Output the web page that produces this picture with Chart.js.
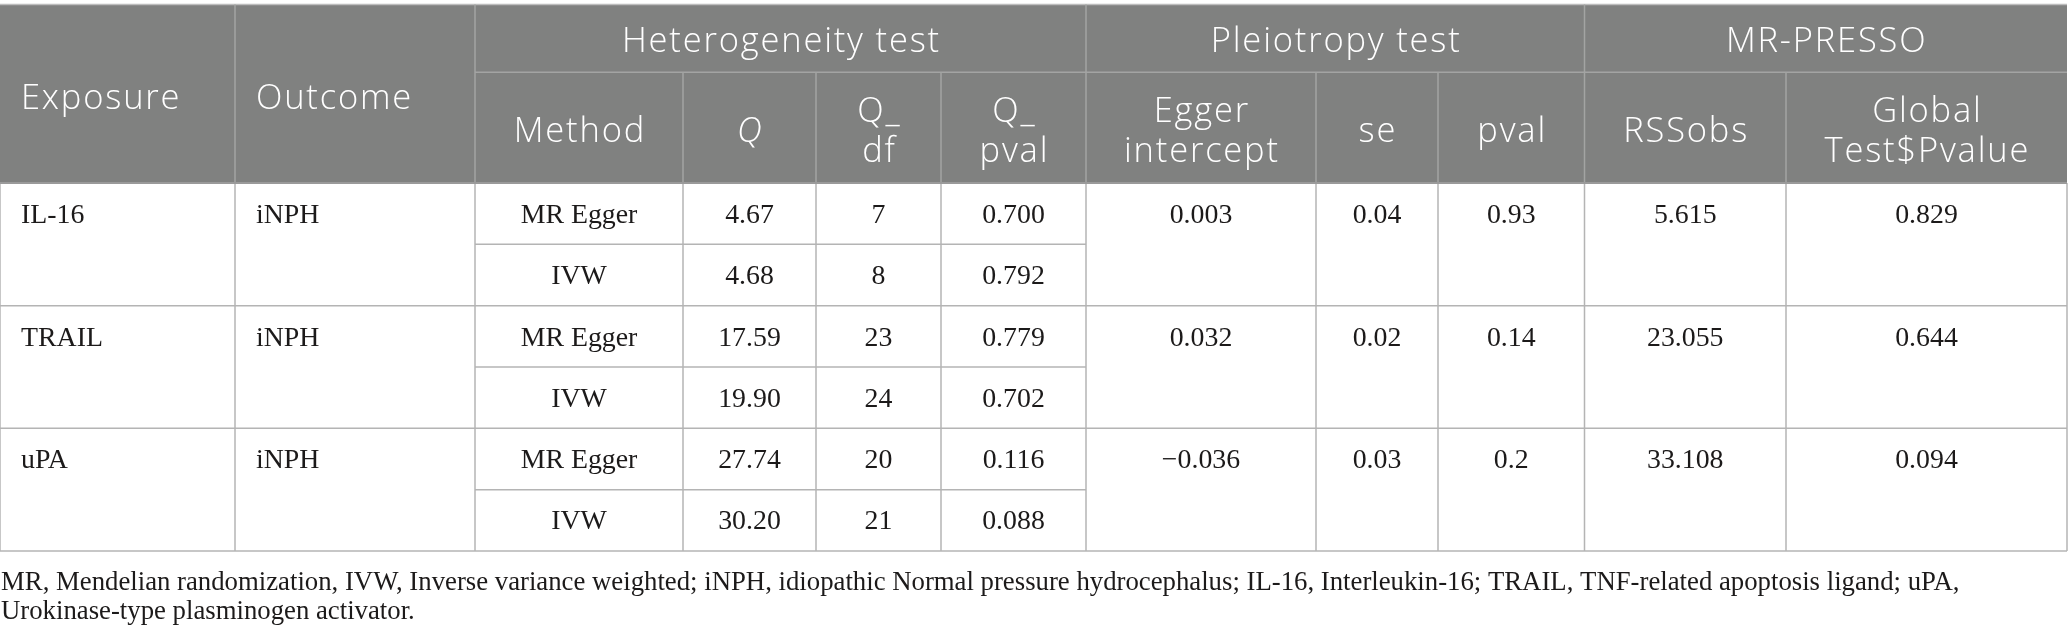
<!DOCTYPE html>
<html>
<head>
<meta charset="utf-8">
<script src="https://cdn.jsdelivr.net/npm/chart.js@4.4.1/dist/chart.umd.min.js"></script>
<style>
  html, body { margin: 0; padding: 0; background: #ffffff; }
  #wrap { width: 2068px; height: 641px; }
</style>
</head>
<body>
<div id="wrap"><canvas id="c" width="2068" height="641"></canvas></div>
<script>
// ---------- DATA ----------
const exposures = ['IL-16', 'TRAIL', 'uPA'];
const outcomes = ['iNPH', 'iNPH', 'iNPH'];
const methods = ['MR Egger', 'IVW'];
const qValues = [['4.67', '4.68'], ['17.59', '19.90'], ['27.74', '30.20']];
const qDf = [['7', '8'], ['23', '24'], ['20', '21']];
const qPval = [['0.700', '0.792'], ['0.779', '0.702'], ['0.116', '0.088']];
const eggerIntercept = ['0.003', '0.032', '\u22120.036'];
const eggerSe = ['0.04', '0.02', '0.03'];
const eggerPval = ['0.93', '0.14', '0.2'];
const rssObs = ['5.615', '23.055', '33.108'];
const globalPval = ['0.829', '0.644', '0.094'];

const groupHeaders = ['Heterogeneity test', 'Pleiotropy test', 'MR-PRESSO'];
const leadHeaders = ['Exposure', 'Outcome'];
const subHeaders = [['Method'], ['Q'], ['Q_', 'df'], ['Q_', 'pval'], ['Egger', 'intercept'], ['se'], ['pval'], ['RSSobs'], ['Global', 'Test$Pvalue']];
const footnoteLines = [
  'MR, Mendelian randomization, IVW, Inverse variance weighted; iNPH, idiopathic Normal pressure hydrocephalus; IL-16, Interleukin-16; TRAIL, TNF-related apoptosis ligand; uPA,',
  'Urokinase-type plasminogen activator.'
];

// ---------- LAYOUT (scale units) ----------
const colEdges = [0, 235, 475, 683, 816, 941, 1086, 1316, 1438, 1584.5, 1786, 2067];
const groupSpans = [[2, 6], [6, 9], [9, 11]];
const hdrTop = 4.5, hdrMid = 72.3, hdrBottom = 183;
const subRowH = 61.33;
const footBaselines = [590, 619];
const padLeft = 21;

const SANS = "'Open Sans', 'Noto Sans', sans-serif";
const SERIF = "'Liberation Serif', 'DejaVu Serif', serif";
const HDR_BG = '#808180';
const HDR_LINE = '#a3a4a3';
const BODY_LINE = '#b4b4b4';
const TEXT = '#1c1a1a';

function fitSize(ctx, font, text, target) {
  ctx.font = font.replace('SIZE', '100px');
  const w = ctx.measureText(text).width;
  return 100 * target / w;
}

const tablePlugin = {
  id: 'tablePlugin',
  afterDraw(chart) {
    const ctx = chart.ctx;
    const xs = chart.scales.x, ys = chart.scales.y;
    const X = v => xs.getPixelForValue(v);
    const Y = v => ys.getPixelForValue(v);
    const hSize = 34.5;
    const hFont = '300 ' + hSize + 'px ' + SANS;
    const hFontI = 'italic 300 ' + hSize + 'px ' + SANS;
    ctx.font = hFont;
    ctx.letterSpacing = '0px';
    const w0 = ctx.measureText('Heterogeneity test').width;
    const hSpacing = Math.max(0, (319 - w0) / 18);
    const fSize = fitSize(ctx, 'SIZE ' + SERIF, footnoteLines[0], 1959);
    const fFont = fSize.toFixed(2) + 'px ' + SERIF;
    const bSize = fSize * 1.04;
    const bFont = bSize.toFixed(2) + 'px ' + SERIF;
    const hCap = hSize * 0.714, bCap = bSize * 0.66;

    ctx.save();
    ctx.fillStyle = HDR_BG;
    ctx.fillRect(X(colEdges[0]), Y(hdrTop), X(colEdges[11]) - X(colEdges[0]), Y(hdrBottom) - Y(hdrTop));

    function line(x1, y1, x2, y2, color, w) {
      ctx.beginPath();
      ctx.strokeStyle = color; ctx.lineWidth = w;
      ctx.moveTo(X(x1), Y(y1)); ctx.lineTo(X(x2), Y(y2));
      ctx.stroke();
    }
    line(colEdges[0], hdrTop, colEdges[11], hdrTop, '#bdbdbd', 1.5);
    line(colEdges[2], hdrMid, colEdges[11], hdrMid, HDR_LINE, 1.5);
    [1, 2, 6, 9].forEach(i => line(colEdges[i], hdrTop, colEdges[i], hdrBottom, HDR_LINE, 1.5));
    [3, 4, 5, 7, 8, 10].forEach(i => line(colEdges[i], hdrMid, colEdges[i], hdrBottom, HDR_LINE, 1.5));

    const bodyBottom = hdrBottom + subRowH * 2 * exposures.length;
    for (let i = 0; i < colEdges.length; i++) {
      line(colEdges[i], hdrBottom, colEdges[i], bodyBottom, BODY_LINE, 1.5);
    }
    for (let g = 0; g <= exposures.length; g++) {
      const yy = hdrBottom + g * 2 * subRowH;
      line(colEdges[0], yy, colEdges[11], yy, g === 0 ? '#9a9a9a' : BODY_LINE, g === 0 ? 2 : 1.5);
      if (g < exposures.length) {
        line(colEdges[2], yy + subRowH, colEdges[6], yy + subRowH, BODY_LINE, 1.5);
      }
    }

    ctx.textBaseline = 'alphabetic';
    function text(str, xv, yc, align, font, cap, spacing) {
      ctx.font = font;
      ctx.letterSpacing = (spacing || 0) + 'px';
      ctx.textAlign = align;
      let x = X(xv);
      if (align === 'center' && spacing) x += spacing / 2;
      ctx.fillText(str, x, Y(yc) + cap / 2);
    }
    // header text
    ctx.fillStyle = '#ffffff';
    const hdrCenter = (hdrTop + hdrBottom) / 2;
    leadHeaders.forEach((h, i) => text(h, colEdges[i] + padLeft, hdrCenter + 3, 'left', hFont, hCap, hSpacing));
    groupHeaders.forEach((h, i) => {
      const [a, b] = groupSpans[i];
      text(h, (colEdges[a] + colEdges[b]) / 2, (hdrTop + hdrMid) / 2 + 1, 'center', hFont, hCap, hSpacing);
    });
    const subCenter = (hdrMid + hdrBottom) / 2 + 2;
    subHeaders.forEach((lines, i) => {
      const cx = (colEdges[i + 2] + colEdges[i + 3]) / 2;
      const font = lines[0] === 'Q' && lines.length === 1 ? hFontI : hFont;
      const lh = 40;
      lines.forEach((l, k) => {
        const yc = subCenter + (k - (lines.length - 1) / 2) * lh;
        text(l, cx, yc, 'center', font, hCap, hSpacing);
      });
    });

    // body text
    ctx.fillStyle = TEXT;
    for (let g = 0; g < exposures.length; g++) {
      for (let s = 0; s < 2; s++) {
        const yc = hdrBottom + (g * 2 + s) * subRowH + subRowH / 2;
        const center = i => (colEdges[i] + colEdges[i + 1]) / 2;
        if (s === 0) {
          text(exposures[g], colEdges[0] + padLeft, yc, 'left', bFont, bCap);
          text(outcomes[g], colEdges[1] + padLeft, yc, 'left', bFont, bCap);
          text(eggerIntercept[g], center(6), yc, 'center', bFont, bCap);
          text(eggerSe[g], center(7), yc, 'center', bFont, bCap);
          text(eggerPval[g], center(8), yc, 'center', bFont, bCap);
          text(rssObs[g], center(9), yc, 'center', bFont, bCap);
          text(globalPval[g], center(10), yc, 'center', bFont, bCap);
        }
        text(methods[s], center(2), yc, 'center', bFont, bCap);
        text(qValues[g][s], center(3), yc, 'center', bFont, bCap);
        text(qDf[g][s], center(4), yc, 'center', bFont, bCap);
        text(qPval[g][s], center(5), yc, 'center', bFont, bCap);
      }
    }
    // footnote
    ctx.font = fFont;
    ctx.letterSpacing = '0px';
    ctx.textAlign = 'left';
    footnoteLines.forEach((l, i) => ctx.fillText(l, X(1), Y(footBaselines[i])));
    ctx.restore();
  }
};

function build() {
  new Chart(document.getElementById('c'), {
    type: 'scatter',
    data: { datasets: [{ data: [], pointRadius: 0 }] },
    options: {
      responsive: false,
      animation: false,
      devicePixelRatio: 1,
      layout: { padding: 0 },
      plugins: { legend: { display: false }, tooltip: { enabled: false } },
      scales: {
        x: { type: 'linear', min: 0, max: 2068, display: false },
        y: { type: 'linear', min: 0, max: 641, reverse: true, display: false }
      }
    },
    plugins: [tablePlugin]
  });
}
const loads = [
  document.fonts.load("300 30px 'Open Sans'"),
  document.fonts.load("italic 300 30px 'Open Sans'"),
  document.fonts.load("30px 'Liberation Serif'")
];
Promise.all(loads).then(build, build);
</script>
</body>
</html>
